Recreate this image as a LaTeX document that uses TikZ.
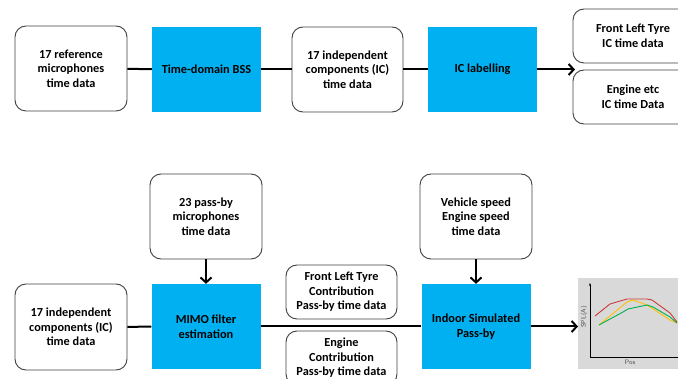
\documentclass[tikz,border=0pt]{standalone}
\usepackage{fontspec}
\setmainfont{Carlito}
\usetikzlibrary{arrows.meta}
\definecolor{bssblue}{RGB}{0,176,240}
\definecolor{plred}{RGB}{204,60,60}
\definecolor{plyellow}{RGB}{255,192,0}
\definecolor{plgreen}{RGB}{0,176,80}
\begin{document}
\begin{tikzpicture}[x=1pt, y=-1pt,
    txt/.style={font=\bfseries\fontsize{12.3}{14.6}\selectfont, align=center, inner sep=0pt},
    rbox/.style={txt, draw=black!75, line width=0.9pt, rounded corners=11pt, fill=white, minimum width=112pt},
    bbox/.style={txt, fill=bssblue, minimum width=109pt, minimum height=85pt},
    link/.style={line width=2pt},
    arr/.style={link, -{Straight Barb[length=5pt,width=11pt]}}]
    \useasboundingbox (0,0) rectangle (678,379);
    % top row
    \node[rbox, minimum height=85pt] (refmic) at (71,68.5) {17 reference\\microphones\\time data};
    \node[bbox] (bss) at (206.5,69.5) {Time-domain BSS};
    \node[rbox, minimum width=111pt, minimum height=85pt] (ictop) at (347.5,69.5) {17 independent\\components (IC)\\time data};
    \node[bbox] (lab) at (482.5,69.5) {IC labelling};
    \node[rbox, minimum width=120pt, minimum height=54pt] (fltyre) at (633,36) {Front Left Tyre\\IC time data};
    \node[rbox, minimum width=120pt, minimum height=54pt] (engic) at (633,97) {Engine etc\\IC time Data};
    \coordinate (split) at (575,69.5);
    \draw[link] (refmic) -- (bss); \draw[link] (bss) -- (ictop); \draw[link] (ictop) -- (lab);
    \draw[arr] (lab) -- (split);
    % bottom row
    \node[rbox, minimum height=85pt] (passmic) at (206,216.5) {23 pass-by\\microphones\\time data};
    \node[bbox] (mimo) at (206,326.5) {MIMO filter\\estimation};
    \node[rbox, minimum height=86pt] (icbot) at (71,327) {17 independent\\components (IC)\\time data};
    \node[rbox, minimum width=111pt, minimum height=54pt] (flcon) at (341.5,292) {Front Left Tyre\\Contribution\\Pass-by time data};
    \node[rbox, minimum width=111pt, minimum height=54pt] (encon) at (341.5,358) {Engine\\Contribution\\Pass-by time data};
    \node[rbox, minimum height=85pt] (speed) at (476,216.5) {Vehicle speed\\Engine speed\\time data};
    \node[bbox] (indoor) at (476,326.5) {Indoor Simulated\\Pass-by};
    \node[fill=gray!30, minimum width=112pt, minimum height=91pt, anchor=north west, inner sep=0pt] (chart) at (578,278) {};
    \draw[link] (icbot) -- (mimo); \draw[link] (mimo) -- (indoor);
    \draw[arr] (passmic) -- (mimo); \draw[arr] (speed) -- (indoor);
    \draw[arr] (indoor.east) -- (chart.west |- indoor.east);
    % pass-by plot
    \draw[line width=0.6pt, -{Stealth[length=3pt]}] (590,357) -- (590,283);
    \draw[line width=0.6pt, -{Stealth[length=3pt]}] (590,357) -- (683,357);
    \node[rotate=90, font=\sffamily\fontsize{6.5}{7}\selectfont, text=black!70] (ylab) at (584,317) {SPL(A)};
    \node[font=\sffamily\fontsize{6.5}{7}\selectfont, text=black!70] (xlab) at (630,362) {Pos};
    \draw[plred, line width=0.9pt] plot coordinates {(595,316) (610,304) (627,299) (647,299) (652,300) (670,313) (677,322)};
    \draw[plyellow, line width=0.9pt] plot coordinates {(599,325) (627,302) (633,300) (647,305) (670,320) (677,323)};
    \draw[plgreen, line width=0.9pt] plot coordinates {(599,325) (623,312) (628,309) (647,305) (653,307) (670,317) (677,323)};
\end{tikzpicture}
\end{document}
